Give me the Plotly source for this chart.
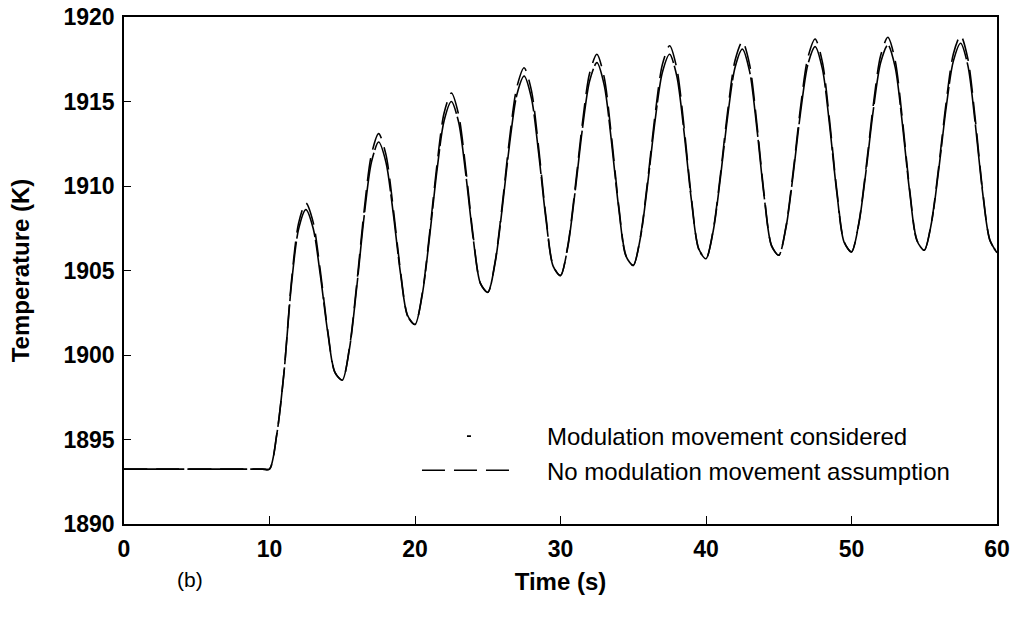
import plotly.graph_objects as go

# Time (s)
time_s = [0, 9.5, 10.0, 10.5, 11.0, 11.5, 12.0, 12.5, 13.0, 13.5, 14.0, 14.5, 15.0, 15.5, 16.0, 16.5, 17.0, 17.5,
          18.0, 18.5, 19.0, 19.5, 20.0, 20.5, 21.0, 21.5, 22.0, 22.5, 23.0, 23.5, 24.0, 24.5, 25.0, 25.5,
          26.0, 26.5, 27.0, 27.5, 28.0, 28.5, 29.0, 29.5, 30.0, 30.5, 31.0, 31.5, 32.0, 32.5, 33.0, 33.5,
          34.0, 34.5, 35.0, 35.5, 36.0, 36.5, 37.0, 37.5, 38.0, 38.5, 39.0, 39.5, 40.0, 40.5, 41.0, 41.5,
          42.0, 42.5, 43.0, 43.5, 44.0, 44.5, 45.0, 45.5, 46.0, 46.5, 47.0, 47.5, 48.0, 48.5, 49.0, 49.5,
          50.0, 50.5, 51.0, 51.5, 52.0, 52.5, 53.0, 53.5, 54.0, 54.5, 55.0, 55.5, 56.0, 56.5, 57.0, 57.5,
          58.0, 58.5, 59.0, 59.5, 60.0]

# Temperature (K), modulation movement considered
temp_modulation = [1893.25, 1893.25, 1893.25, 1895.3, 1899.0, 1904.1, 1907.45, 1908.6, 1907.50, 1904.68, 1901.35,
                   1898.95, 1898.51, 1900.40, 1904.04, 1908.17, 1911.39, 1912.6,
                   1911.42, 1908.41, 1904.85, 1902.29, 1901.81, 1903.58, 1906.98, 1910.85, 1913.86, 1915.0,
                   1913.77, 1910.62, 1906.89, 1904.22, 1903.70, 1905.42, 1908.72, 1912.48, 1915.40, 1916.5,
                   1915.21, 1911.93, 1908.04, 1905.24, 1904.70, 1906.39, 1909.64, 1913.34, 1916.21, 1917.3,
                   1915.99, 1912.65, 1908.70, 1905.85, 1905.30, 1906.98, 1910.20, 1913.87, 1916.72, 1917.8,
                   1916.48, 1913.12, 1909.13, 1906.26, 1905.70, 1907.36, 1910.56, 1914.20, 1917.03, 1918.1,
                   1916.77, 1913.38, 1909.35, 1906.46, 1905.90, 1907.56, 1910.74, 1914.37, 1917.19, 1918.25,
                   1916.93, 1913.55, 1909.54, 1906.66, 1906.10, 1907.74, 1910.90, 1914.50, 1917.29, 1918.35,
                   1917.03, 1913.65, 1909.64, 1906.76, 1906.20, 1907.84, 1911.00, 1914.60, 1917.39, 1918.45,
                   1917.12, 1913.73, 1909.70, 1906.81, 1906.05]

# Temperature (K), no modulation movement assumption
temp_no_modulation = [1893.25, 1893.25, 1893.25, 1895.3, 1899.0, 1904.3, 1907.8, 1909.0, 1907.86, 1904.93, 1901.46,
                      1898.97, 1898.52, 1900.47, 1904.24, 1908.51, 1911.84, 1913.1,
                      1911.87, 1908.72, 1904.99, 1902.32, 1901.81, 1903.65, 1907.18, 1911.19, 1914.32, 1915.5,
                      1914.21, 1910.93, 1907.04, 1904.24, 1903.71, 1905.49, 1908.92, 1912.82, 1915.85, 1917.0,
                      1915.66, 1912.24, 1908.18, 1905.27, 1904.70, 1906.46, 1909.84, 1913.68, 1916.67, 1917.8,
                      1916.44, 1912.96, 1908.84, 1905.88, 1905.30, 1907.05, 1910.40, 1914.21, 1917.18, 1918.3,
                      1916.93, 1913.42, 1909.27, 1906.29, 1905.70, 1907.43, 1910.74, 1914.51, 1917.44, 1918.55,
                      1917.17, 1913.65, 1909.48, 1906.49, 1905.90, 1907.62, 1910.92, 1914.68, 1917.60, 1918.7,
                      1917.33, 1913.82, 1909.67, 1906.69, 1906.10, 1907.80, 1911.08, 1914.81, 1917.71, 1918.8,
                      1917.43, 1913.92, 1909.77, 1906.79, 1906.20, 1907.90, 1911.18, 1914.91, 1917.81, 1918.9,
                      1917.52, 1914.00, 1909.83, 1906.84, 1906.05]

series_names = ["Modulation movement considered", "No modulation movement assumption"]
x_ticks = [0, 10, 20, 30, 40, 50, 60]
y_ticks = [1890, 1895, 1900, 1905, 1910, 1915, 1920]

FONT = "Liberation Sans, Arial, sans-serif"

fig = go.Figure()

fig.add_trace(go.Scatter(
    x=time_s, y=temp_modulation, mode="lines", showlegend=False,
    line=dict(color="black", width=1.6, dash="60px,3px", shape="spline", smoothing=0.8),
))
fig.add_trace(go.Scatter(
    x=time_s, y=temp_no_modulation, mode="lines", showlegend=False,
    line=dict(color="black", width=1.6, dash="23px,9px", shape="spline", smoothing=0.8),
))
# legend entries
fig.add_trace(go.Scatter(
    x=[None], y=[None], mode="lines", name=series_names[0],
    line=dict(color="black", width=1.6, dash="0px,45px,4px,400px"),
))
fig.add_trace(go.Scatter(
    x=[None], y=[None], mode="lines", name=series_names[1],
    line=dict(color="black", width=1.6, dash="23px,9px,23px,9px,23px,400px"),
))

fig.update_layout(
    width=1015, height=619,
    margin=dict(l=124, r=18, t=17, b=95, autoexpand=False),
    paper_bgcolor="white", plot_bgcolor="white",
    font=dict(family=FONT, size=22, color="black"),
    showlegend=True,
    legend=dict(
        x=0.3356, y=0.217, xanchor="left", yanchor="top",
        bgcolor="rgba(0,0,0,0)", font=dict(family=FONT, size=24, color="black"),
        itemwidth=120, tracegroupgap=0,
    ),
    xaxis=dict(
        range=[0, 60], tickvals=x_ticks, ticks="inside", ticklen=8, tickwidth=1, tickcolor="black",
        showline=True, linecolor="black", linewidth=1.5, mirror=True, showgrid=False, zeroline=False,
        automargin=False,
        tickfont=dict(family=FONT, size=23, color="black", weight="bold"),
        ticklabelstandoff=4,
        title=dict(text="<b>Time (s)</b>", font=dict(family=FONT, size=24), standoff=12),
    ),
    yaxis=dict(
        range=[1890, 1920], tickvals=y_ticks, ticks="inside", ticklen=7, tickwidth=1, tickcolor="black",
        showline=True, linecolor="black", linewidth=1.5, mirror=True, showgrid=False, zeroline=False,
        automargin=False,
        tickfont=dict(family=FONT, size=23, color="black", weight="bold"),
        ticklabelstandoff=3,
        title=dict(text="<b>Temperature (K)</b>", font=dict(family=FONT, size=24), standoff=27),
    ),
    annotations=[dict(
        text="(b)", x=0.0756, y=-0.11, xref="paper", yref="paper",
        xanchor="center", yanchor="middle", showarrow=False,
        font=dict(family=FONT, size=21, color="black"),
    )],
)

fig.write_html("out.html")
